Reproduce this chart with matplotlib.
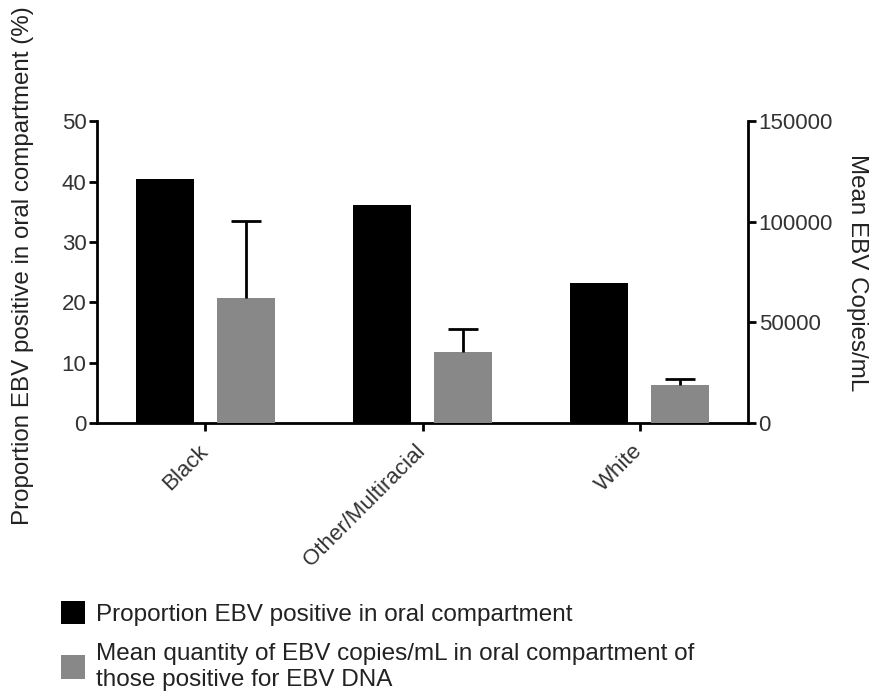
import matplotlib.pyplot as plt
from matplotlib.patches import Patch

plt.rcParams['font.family'] = ['Liberation Sans', 'DejaVu Sans']

groups = ['Black', 'Other/Multiracial', 'White']
pct_positive = [40.4, 36.1, 23.2]
mean_copies = [62000, 35500, 19000]
copies_err = [38500, 11500, 3000]

fig = plt.figure(figsize=(8.73, 6.96), dpi=100)
ax = fig.add_axes([0.111, 0.392, 0.746, 0.434])
ax2 = ax.twinx()

x = list(range(len(groups)))
w = 0.267
off = 0.187

ax.bar([i - off for i in x], pct_positive, width=w, color='black')
ax2.bar([i + off for i in x], mean_copies, width=w, color='#888888')
eb = ax2.errorbar([i + off for i in x], mean_copies,
                  yerr=[[0] * len(x), copies_err], fmt='none',
                  ecolor='black', elinewidth=2, capsize=11, capthick=2)
# only the upper cap, like prism draws it
eb[1][0].set_visible(False)

ax.set_xlim(-0.5, 2.5)
ax.set_ylim(0, 50)
ax2.set_ylim(0, 150000)
ax.set_yticks([0, 10, 20, 30, 40, 50])
ax2.set_yticks([0, 50000, 100000, 150000])
ax.set_xticks(x)
ax.set_xticklabels(groups, rotation=45, ha='right', va='center',
                   rotation_mode='anchor')

for a in (ax, ax2):
    a.spines['top'].set_visible(False)
    for s in a.spines.values():
        s.set_linewidth(2)
    a.tick_params(width=2, length=6, labelsize=16, colors='black',
                  labelcolor='#333333', pad=1.5)
ax.spines['right'].set_visible(False)
ax2.spines['left'].set_visible(False)
ax2.spines['bottom'].set_visible(False)
ax.tick_params(axis='x', pad=12)

ax.set_ylabel('Proportion EBV positive in oral compartment (%)', fontsize=17.4,
              color='#222222')
ax.yaxis.set_label_coords(-0.096, 0.52)
ax2.set_ylabel('Mean EBV Copies/mL', fontsize=17.4, rotation=270,
               color='#222222', va='center')
ax2.yaxis.set_label_coords(1.167, 0.5)

handles = [Patch(facecolor='black'), Patch(facecolor='#888888')]
labels = ['Proportion EBV positive in oral compartment',
          'Mean quantity of EBV copies/mL in oral compartment of\nthose positive for EBV DNA']
leg = fig.legend(handles, labels, loc='upper left', bbox_to_anchor=(0.070, 0.137),
                 frameon=False, fontsize=17.5, handlelength=1.0, handleheight=1.1,
                 handletextpad=0.45, labelspacing=0.7, borderpad=0.0,
                 borderaxespad=0.0, labelcolor='#222222')
leg.get_texts()[1].set_linespacing(1.25)

fig.savefig('out.png', dpi=100)
